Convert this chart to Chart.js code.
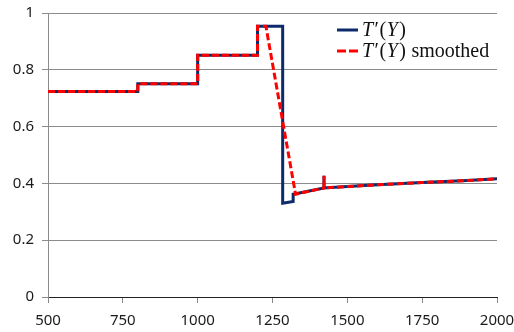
<!DOCTYPE html>
<html>
<head>
<meta charset="utf-8">
<script src="https://cdn.jsdelivr.net/npm/chart.js@4.4.0/dist/chart.umd.min.js"></script>
<style>
  html, body { margin: 0; padding: 0; background: #fff; }
  #wrap { width: 514px; height: 332px; }
</style>
</head>
<body>
<div id="wrap"><canvas id="tChart" width="514" height="332"></canvas></div>
<script>
// T'(Y) - raw step curve
const rawX = [500, 800, 800, 1000, 1000, 1200, 1200, 1284, 1284, 1319, 1319, 1422, 1422, 1422, 1500, 1600, 1750, 1900, 2000];
const rawY = [0.724, 0.724, 0.751, 0.751, 0.851, 0.851, 0.953, 0.953, 0.330, 0.336, 0.362, 0.384, 0.427, 0.384, 0.389, 0.395, 0.403, 0.410, 0.416];

// T'(Y) smoothed
const smoothX = [500, 800, 800, 1000, 1000, 1200, 1200, 1228, 1327, 1422, 1422, 1422, 1500, 1600, 1750, 1900, 2000];
const smoothY = [0.724, 0.724, 0.751, 0.751, 0.851, 0.851, 0.953, 0.953, 0.362, 0.384, 0.427, 0.384, 0.389, 0.395, 0.403, 0.410, 0.416];

const xTicks = [500, 750, 1000, 1250, 1500, 1750, 2000];
const yTicks = [0, 0.2, 0.4, 0.6, 0.8, 1];

const BLUE = '#0d2b6b';
const RED = '#ff0000';
const tickFont = { family: 'Noto Sans', size: 15 };

const toPoints = (xs, ys) => xs.map((x, i) => ({ x: x, y: ys[i] }));

// legend with math-style labels, drawn in the top right corner
const mathLegend = {
  id: 'mathLegend',
  afterDraw(chart) {
    const ctx = chart.ctx;
    const rows = [
      { color: BLUE, dash: [], extra: '' },
      { color: RED, dash: [9, 3], extra: ' smoothed' }
    ];
    ctx.save();
    rows.forEach((r, i) => {
      const y = 30 + i * 21;
      ctx.beginPath();
      ctx.setLineDash(r.dash);
      ctx.strokeStyle = r.color;
      ctx.lineWidth = 3;
      ctx.moveTo(337, y);
      ctx.lineTo(358, y);
      ctx.stroke();
      ctx.setLineDash([]);

      ctx.fillStyle = '#111';
      ctx.textBaseline = 'alphabetic';
      let x = 362;
      const parts = [
        ['italic', 'T'], ['normal', '\u2032'], ['normal', '('], ['italic', 'Y'], ['normal', ')'], ['normal', r.extra]
      ];
      parts.forEach(p => {
        ctx.font = p[0] + ' 20px "Liberation Serif", "DejaVu Serif", serif';
        ctx.fillText(p[1], x, y + 6);
        x += ctx.measureText(p[1]).width + (p[1] === 'T' || p[1] === 'Y' ? 1.5 : 0.5);
      });
    });
    ctx.restore();
  }
};

const ctx = document.getElementById('tChart');
new Chart(ctx, {
  type: 'line',
  data: {
    datasets: [
      {
        label: "T'(Y) smoothed",
        data: toPoints(smoothX, smoothY),
        borderColor: RED,
        borderWidth: 3,
        borderDash: [7, 3],
        pointRadius: 0,
        tension: 0,
        order: 0
      },
      {
        label: "T'(Y)",
        data: toPoints(rawX, rawY),
        borderColor: BLUE,
        borderWidth: 3,
        pointRadius: 0,
        tension: 0,
        order: 1
      }
    ]
  },
  options: {
    responsive: false,
    animation: false,
    devicePixelRatio: 1,
    layout: { padding: { top: 13, right: 17, left: 0, bottom: 0 } },
    plugins: {
      legend: { display: false },
      tooltip: { enabled: false }
    },
    scales: {
      x: {
        type: 'linear',
        min: 500,
        max: 2000,
        afterBuildTicks: s => { s.ticks = xTicks.map(v => ({ value: v })); },
        afterFit: s => { s.height = 35; s.paddingLeft = 0; s.paddingRight = 0; },
        ticks: {
          font: tickFont,
          color: '#1a1a1a',
          padding: 9,
          maxRotation: 0,
          autoSkip: false,
          callback: v => String(v)
        },
        grid: { drawOnChartArea: false, drawTicks: true, tickLength: 6, color: '#888' },
        border: { color: '#222', width: 1 }
      },
      y: {
        min: 0,
        max: 1,
        afterBuildTicks: s => { s.ticks = yTicks.map(v => ({ value: v })); },
        afterFit: s => { s.width = 48; s.paddingTop = 0; s.paddingBottom = 0; },
        ticks: {
          font: tickFont,
          color: '#1a1a1a',
          padding: 8,
          callback: v => String(Math.round(v * 10) / 10)
        },
        grid: { color: '#8c8c8c', tickLength: 6 },
        border: { color: '#8c8c8c', width: 1 }
      }
    }
  },
  plugins: [mathLegend]
});
</script>
</body>
</html>
